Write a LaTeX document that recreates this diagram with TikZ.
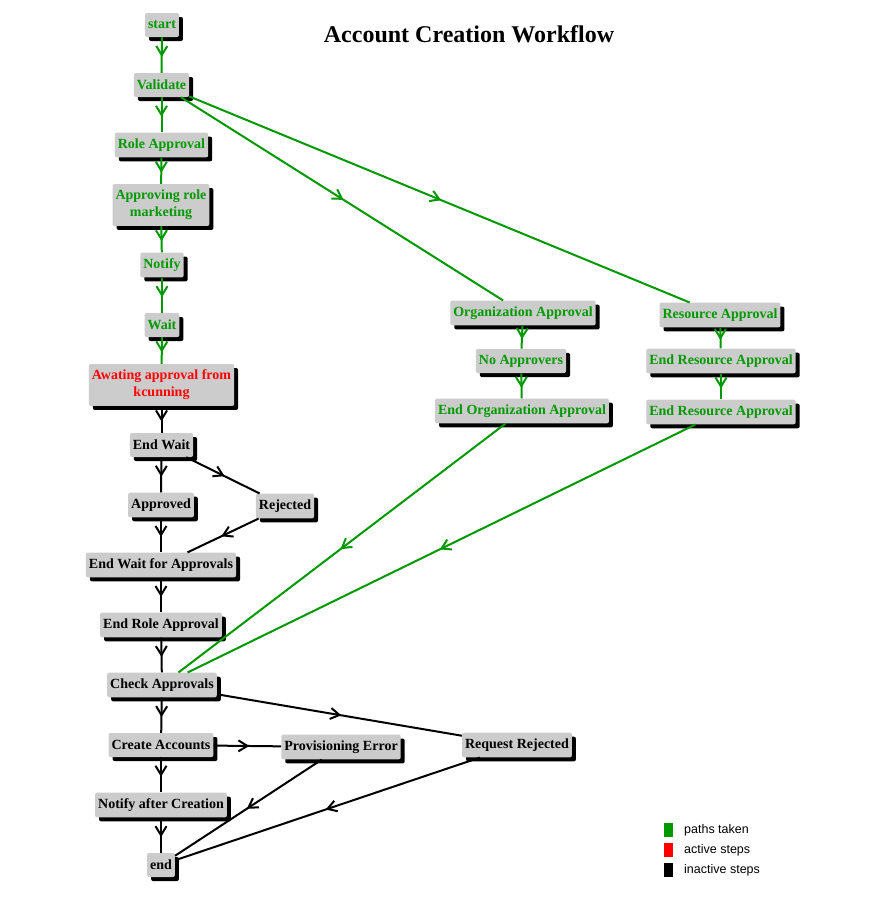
\documentclass[tikz,border=0pt]{standalone}
\usepackage{fontspec}
\setmainfont{Liberation Serif}
\newfontfamily\legendfont{Liberation Sans}
\usetikzlibrary{shadows,decorations.markings}
\definecolor{pathgreen}{RGB}{0,153,0}
\definecolor{activered}{RGB}{255,0,0}
\definecolor{boxgray}{RGB}{204,204,204}
\tikzset{
  wfnode/.style={rectangle, rounded corners=2pt, fill=boxgray, inner xsep=3pt, inner ysep=6pt,
    minimum height=24pt, align=center, font=\fontsize{14}{17}\selectfont\bfseries,
    drop shadow={shadow xshift=4pt,shadow yshift=-4pt,fill=black,opacity=1}},
  gnode/.style={wfnode, text=pathgreen},
  rnode/.style={wfnode, text=activered},
  knode/.style={wfnode, text=black},
  midarrow/.style={postaction={decorate}, decoration={markings,
    mark=at position 0.5 with {\draw[#1, line width=2pt] (-9pt,-5.5pt) -- (0pt,0pt) -- (-9pt,5.5pt);}}},
  gedge/.style={draw=pathgreen, line width=2pt, midarrow=pathgreen},
  kedge/.style={draw=black, line width=2pt, midarrow=black},
  legsq/.style={minimum width=9pt, minimum height=14pt, inner sep=0pt},
  legtxt/.style={anchor=west, inner sep=0pt, font=\legendfont\fontsize{12.5}{14}\selectfont},
}
\begin{document}
\begin{tikzpicture}[x=1pt,y=-1pt]
\useasboundingbox[fill=white] (0,0) rectangle (886,913);
\node[font=\fontsize{24}{28}\selectfont\bfseries] (title) at (469,34) {Account Creation Workflow};
% left column
\node[gnode] (start) at (162,25) {start};
\node[gnode] (validate) at (161.5,85) {Validate};
\node[gnode] (role) at (161.5,145) {Role Approval};
\node[gnode] (approving) at (161,205) {Approving role\\marketing};
\node[gnode] (notify) at (162,265) {Notify};
\node[gnode] (wait) at (162,325) {Wait};
\node[rnode] (awaiting) at (161.5,385) {Awating approval from\\kcunning};
\node[knode] (endwait) at (161.5,445) {End Wait};
\node[knode] (approved) at (161,505) {Approved};
\node[knode] (rejected) at (285,506) {Rejected};
\node[knode] (ewfa) at (161,565) {End Wait for Approvals};
\node[knode] (era) at (161,625) {End Role Approval};
\node[knode] (check) at (162,685) {Check Approvals};
\node[knode] (create) at (161,745) {Create Accounts};
\node[knode] (proverr) at (341,747) {Provisioning Error};
\node[knode] (reqrej) at (517,745) {Request Rejected};
\node[knode] (notifyafter) at (161,805) {Notify after Creation};
\node[knode] (end) at (161,865) {end};
% organization column
\node[gnode] (org) at (523,313) {Organization Approval};
\node[gnode] (noapp) at (521,361) {No Approvers};
\node[gnode] (endorg) at (522,411) {End Organization Approval};
% resource column
\node[gnode] (res) at (720,315) {Resource Approval};
\node[gnode] (endres1) at (721,361) {End Resource Approval};
\node[gnode] (endres2) at (721,412) {End Resource Approval};
% edges
\draw[gedge] (start) -- (validate);
\draw[gedge] (validate) -- (role);
\draw[gedge] (role) -- (approving);
\draw[gedge] (approving) -- (notify);
\draw[gedge] (notify) -- (wait);
\draw[gedge] (wait) -- (awaiting);
\draw[gedge] (validate) -- (org);
\draw[gedge] (validate) -- (res);
\draw[gedge] (org) -- (noapp);
\draw[gedge] (noapp) -- (endorg);
\draw[gedge] (res) -- (endres1);
\draw[gedge] (endres1) -- (endres2);
\draw[gedge] (endorg) -- (check);
\draw[gedge] (endres2) -- (check);
\draw[kedge] (awaiting) -- (endwait);
\draw[kedge] (endwait) -- (approved);
\draw[kedge] (endwait) -- (rejected);
\draw[kedge] (approved) -- (ewfa);
\draw[kedge] (rejected) -- (ewfa);
\draw[kedge] (ewfa) -- (era);
\draw[kedge] (era) -- (check);
\draw[kedge] (check) -- (create);
\draw[kedge] (check) -- (reqrej);
\draw[kedge] (create) -- (proverr);
\draw[kedge] (create) -- (notifyafter);
\draw[kedge] (notifyafter) -- (end);
\draw[kedge] (proverr) -- (end);
\draw[kedge] (reqrej) -- (end);
% legend
\node[legsq, fill=pathgreen] (lg) at (668.5,830) {};
\node[legsq, fill=activered] (lr) at (668.5,850) {};
\node[legsq, fill=black] (lk) at (668.5,870) {};
\node[legtxt] (lgt) at (684,830) {paths taken};
\node[legtxt] (lrt) at (684,850) {active steps};
\node[legtxt] (lkt) at (684,870) {inactive steps};
\end{tikzpicture}
\end{document}
